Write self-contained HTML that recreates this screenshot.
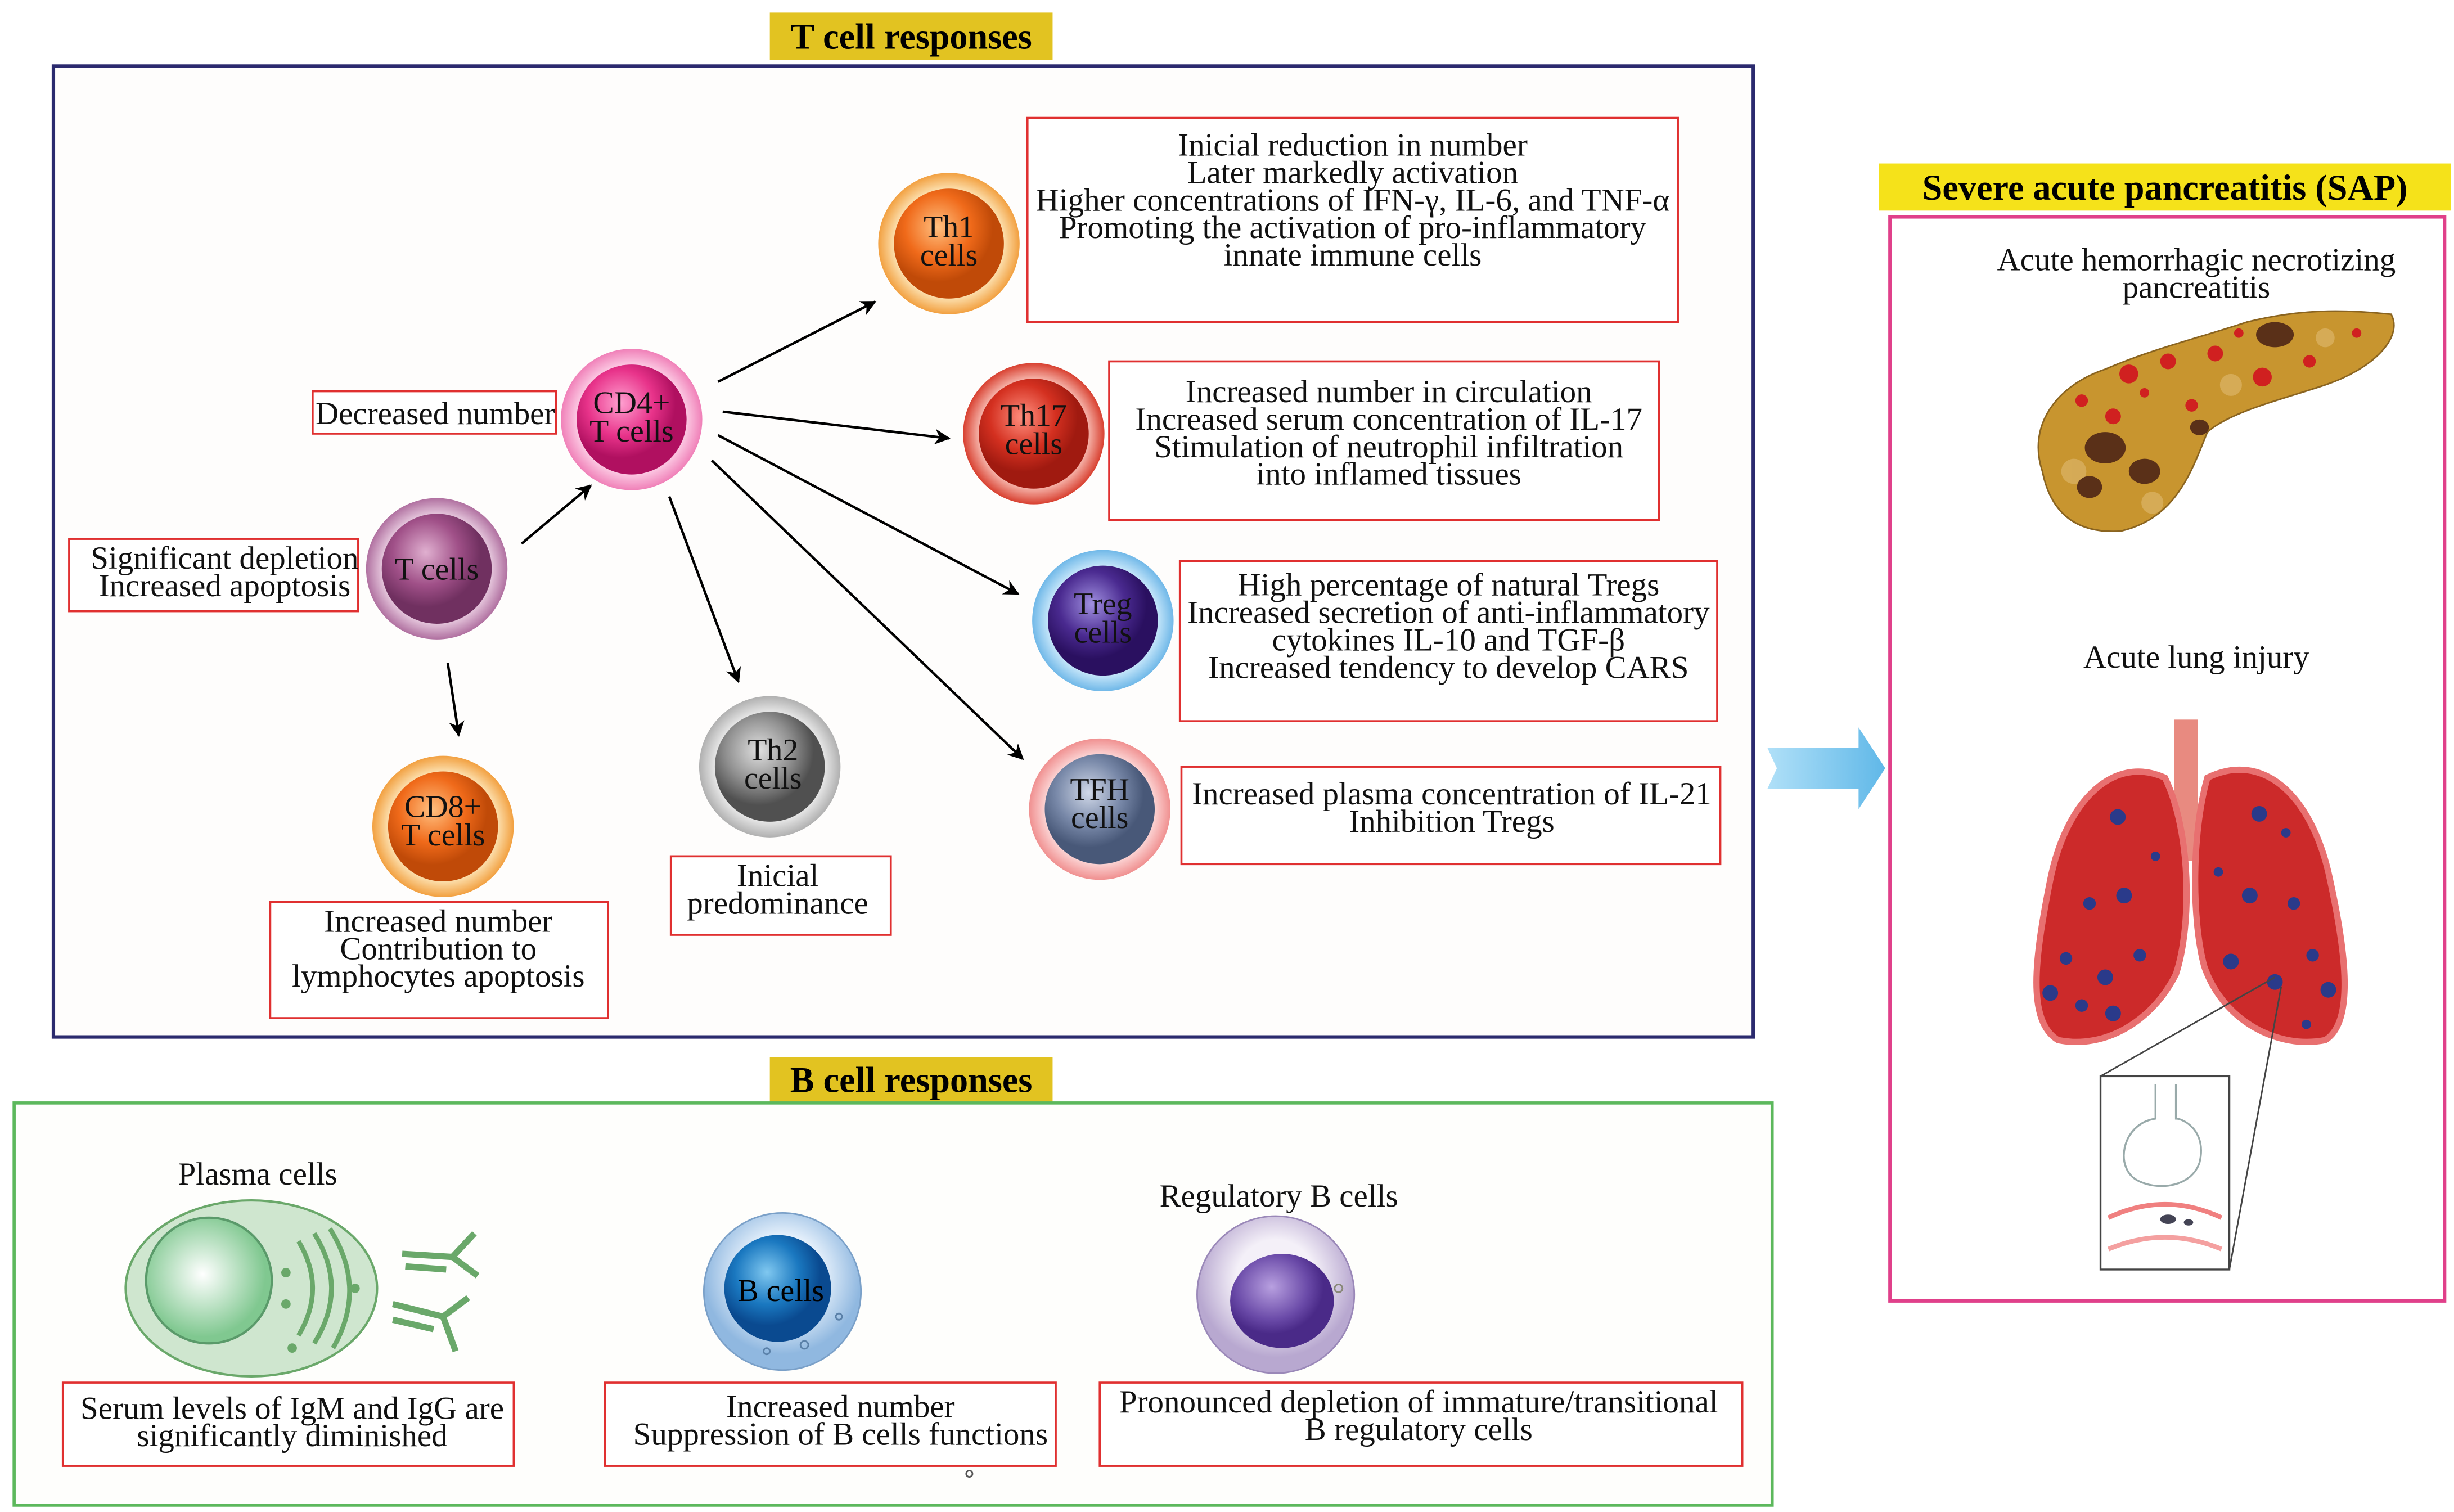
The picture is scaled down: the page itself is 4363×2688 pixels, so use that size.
<!DOCTYPE html>
<html><head><meta charset="utf-8"><style>html,body{margin:0;padding:0;background:#fff}svg{display:block}</style></head>
<body>
<svg width="4363" height="2688" viewBox="0 0 1562 962.3" xmlns="http://www.w3.org/2000/svg" font-family="'Liberation Serif', serif">
<defs>
<marker id="ah" markerWidth="10" markerHeight="10" refX="9" refY="5" orient="auto" markerUnits="userSpaceOnUse"><path d="M0,0 L10,5 L0,10 L3,5 z" fill="#000"/></marker>
<radialGradient id="gO" cx="40%" cy="35%"><stop offset="0" stop-color="#ffc080"/><stop offset="0.6" stop-color="#f06a1a"/><stop offset="1" stop-color="#c04a08"/></radialGradient>
<radialGradient id="rO" cx="50%" cy="50%"><stop offset="0.7" stop-color="#fff3d0"/><stop offset="1" stop-color="#f2a040"/></radialGradient>
<radialGradient id="gP" cx="40%" cy="35%"><stop offset="0" stop-color="#ffa0d0"/><stop offset="0.6" stop-color="#e8338a"/><stop offset="1" stop-color="#b01060"/></radialGradient>
<radialGradient id="rP" cx="50%" cy="50%"><stop offset="0.7" stop-color="#ffe0f0"/><stop offset="1" stop-color="#f080b8"/></radialGradient>
<radialGradient id="gR" cx="40%" cy="35%"><stop offset="0" stop-color="#ff9080"/><stop offset="0.6" stop-color="#d43020"/><stop offset="1" stop-color="#a01a10"/></radialGradient>
<radialGradient id="rR" cx="50%" cy="50%"><stop offset="0.7" stop-color="#ffd8d0"/><stop offset="1" stop-color="#d84030"/></radialGradient>
<radialGradient id="gV" cx="40%" cy="35%"><stop offset="0" stop-color="#e0b0d0"/><stop offset="0.6" stop-color="#a05088"/><stop offset="1" stop-color="#703060"/></radialGradient>
<radialGradient id="rV" cx="50%" cy="50%"><stop offset="0.7" stop-color="#f5e0ee"/><stop offset="1" stop-color="#b070a0"/></radialGradient>
<radialGradient id="gT" cx="40%" cy="35%"><stop offset="0" stop-color="#a090e0"/><stop offset="0.6" stop-color="#4a2a90"/><stop offset="1" stop-color="#2a1060"/></radialGradient>
<radialGradient id="rT" cx="50%" cy="50%"><stop offset="0.7" stop-color="#e0f4ff"/><stop offset="1" stop-color="#70b8e8"/></radialGradient>
<radialGradient id="gG" cx="40%" cy="35%"><stop offset="0" stop-color="#e0e0e0"/><stop offset="0.6" stop-color="#909090"/><stop offset="1" stop-color="#505050"/></radialGradient>
<radialGradient id="rG" cx="50%" cy="50%"><stop offset="0.7" stop-color="#f8f8f8"/><stop offset="1" stop-color="#b0b0b0"/></radialGradient>
<radialGradient id="gS" cx="40%" cy="35%"><stop offset="0" stop-color="#d0d8e8"/><stop offset="0.6" stop-color="#7888a8"/><stop offset="1" stop-color="#485878"/></radialGradient>
<radialGradient id="rS" cx="50%" cy="50%"><stop offset="0.7" stop-color="#ffe8e8"/><stop offset="1" stop-color="#f09090"/></radialGradient>
<radialGradient id="gB" cx="40%" cy="35%"><stop offset="0" stop-color="#80c8f0"/><stop offset="0.6" stop-color="#1a78c0"/><stop offset="1" stop-color="#0a4a90"/></radialGradient>
<radialGradient id="rB" cx="50%" cy="40%"><stop offset="0.5" stop-color="#e8f2fc"/><stop offset="1" stop-color="#90b8e0"/></radialGradient>
<radialGradient id="gRB" cx="40%" cy="35%"><stop offset="0" stop-color="#b8a0e0"/><stop offset="0.7" stop-color="#6a4aa8"/><stop offset="1" stop-color="#4a2a88"/></radialGradient>
<radialGradient id="rRB" cx="50%" cy="40%"><stop offset="0.5" stop-color="#f4f0f8"/><stop offset="1" stop-color="#b8a8d0"/></radialGradient>
<radialGradient id="gPl" cx="45%" cy="45%"><stop offset="0" stop-color="#ffffff"/><stop offset="1" stop-color="#80c890"/></radialGradient>
<linearGradient id="arr" x1="0" x2="1"><stop offset="0" stop-color="#b0e0f8"/><stop offset="1" stop-color="#60b8e8"/></linearGradient>
</defs>
<rect width="1562" height="962.3" fill="#fff"/>

<rect x="490" y="8" width="180" height="30" fill="#e2c321"/>
<text x="580" y="31" font-size="23" font-weight="bold" text-anchor="middle">T cell responses</text>
<rect x="490" y="673" width="180" height="29" fill="#e2c321"/>
<text x="580" y="695" font-size="23" font-weight="bold" text-anchor="middle">B cell responses</text>
<rect x="1196" y="104" width="364" height="30" fill="#f5e21a"/>
<text x="1378" y="127" font-size="23" font-weight="bold" text-anchor="middle">Severe acute pancreatitis (SAP)</text>

<rect x="34" y="42" width="1082" height="618" fill="#fefdfc" stroke="#2b2a6e" stroke-width="2.2"/>
<rect x="9" y="702" width="1119" height="256" fill="#fefefc" stroke="#5cb85c" stroke-width="2"/>
<rect x="1203" y="138" width="353" height="690" fill="#fff" stroke="#e0408a" stroke-width="2.2"/>

<path d="M1125,476 L1183,476 L1183,463 L1200,489 L1183,515 L1183,502 L1125,502 L1131,489 z" fill="url(#arr)"/>

<g stroke="#000" stroke-width="1.6" marker-end="url(#ah)">
<line x1="332" y1="346" x2="376" y2="309"/>
<line x1="457" y1="243" x2="557" y2="192"/>
<line x1="460" y1="262" x2="604" y2="279"/>
<line x1="457" y1="277" x2="648" y2="378"/>
<line x1="453" y1="293" x2="651" y2="483"/>
<line x1="426" y1="316" x2="470" y2="434"/>
<line x1="285" y1="422" x2="292" y2="468"/>
</g>

<g font-size="20" text-anchor="middle" fill="#111">
<circle cx="604" cy="155" r="45" fill="url(#rO)"/><circle cx="604" cy="155" r="35" fill="url(#gO)"/>
<text x="604" y="151">Th1</text><text x="604" y="169">cells</text>
<circle cx="402" cy="267" r="45" fill="url(#rP)"/><circle cx="402" cy="267" r="35" fill="url(#gP)"/>
<text x="402" y="263">CD4+</text><text x="402" y="281">T cells</text>
<circle cx="658" cy="276" r="45" fill="url(#rR)"/><circle cx="658" cy="276" r="35" fill="url(#gR)"/>
<text x="658" y="271">Th17</text><text x="658" y="289">cells</text>
<circle cx="278" cy="362" r="45" fill="url(#rV)"/><circle cx="278" cy="362" r="35" fill="url(#gV)"/>
<text x="278" y="369">T cells</text>
<circle cx="702" cy="395" r="45" fill="url(#rT)"/><circle cx="702" cy="395" r="35" fill="url(#gT)"/>
<text x="702" y="391">Treg</text><text x="702" y="409">cells</text>
<circle cx="282" cy="526" r="45" fill="url(#rO)"/><circle cx="282" cy="526" r="35" fill="url(#gO)"/>
<text x="282" y="520">CD8+</text><text x="282" y="538">T cells</text>
<circle cx="490" cy="488" r="45" fill="url(#rG)"/><circle cx="490" cy="488" r="35" fill="url(#gG)"/>
<text x="492" y="484">Th2</text><text x="492" y="502">cells</text>
<circle cx="700" cy="515" r="45" fill="url(#rS)"/><circle cx="700" cy="515" r="35" fill="url(#gS)"/>
<text x="700" y="509">TFH</text><text x="700" y="527">cells</text>
</g>

<g fill="#fff" stroke="#e03030" stroke-width="1.3">
<rect x="654" y="75" width="414" height="130"/>
<rect x="706" y="230" width="350" height="101"/>
<rect x="751" y="357" width="342" height="102"/>
<rect x="752" y="488" width="343" height="62"/>
<rect x="199" y="249" width="155" height="27"/>
<rect x="44" y="343" width="184" height="46"/>
<rect x="172" y="574" width="215" height="74"/>
<rect x="427" y="545" width="140" height="50"/>
<rect x="40" y="880" width="287" height="53"/>
<rect x="385" y="880" width="287" height="53"/>
<rect x="700" y="880" width="409" height="53"/>
</g>
<g font-size="20.4" text-anchor="middle" fill="#111">
<text x="861" y="99">Inicial reduction in number</text>
<text x="861" y="116.5">Later markedly activation</text>
<text x="861" y="134">Higher concentrations of IFN-γ, IL-6, and TNF-α</text>
<text x="861" y="151.5">Promoting the activation of pro-inflammatory</text>
<text x="861" y="169">innate immune cells</text>
<text x="884" y="256">Increased number in circulation</text>
<text x="884" y="273.5">Increased serum  concentration of IL-17</text>
<text x="884" y="291">Stimulation of neutrophil infiltration</text>
<text x="884" y="308.5">into inflamed tissues</text>
<text x="922" y="379">High percentage of natural Tregs</text>
<text x="922" y="396.5">Increased secretion of anti-inflammatory</text>
<text x="922" y="414">cytokines IL-10 and TGF-β</text>
<text x="922" y="431.5">Increased tendency to develop CARS</text>
<text x="924" y="512">Increased plasma concentration of IL-21</text>
<text x="924" y="529.5">Inhibition Tregs</text>
<text x="277" y="270">Decreased number</text>
<text x="143" y="362">Significant depletion</text>
<text x="143" y="379.5">Increased apoptosis</text>
<text x="279" y="593">Increased number</text>
<text x="279" y="610.5">Contribution to</text>
<text x="279" y="628">lymphocytes apoptosis</text>
<text x="495" y="564">Inicial</text>
<text x="495" y="581.5">predominance</text>
<text x="186" y="903">Serum levels of IgM and IgG are</text>
<text x="186" y="920.5">significantly diminished</text>
<text x="535" y="902">Increased number</text>
<text x="535" y="919.5">Suppression of B cells functions</text>
<text x="903" y="899">Pronounced depletion of immature/transitional</text>
<text x="903" y="916.5">B regulatory cells</text>
<text x="164" y="754">Plasma cells</text>
<text x="814" y="768">Regulatory B cells</text>
<text x="1398" y="172">Acute hemorrhagic necrotizing</text>
<text x="1398" y="189.5">pancreatitis</text>
<text x="1398" y="425">Acute lung injury</text>
</g>

<ellipse cx="160" cy="820" rx="80" ry="56" fill="#cfe6cf" stroke="#6aa86a" stroke-width="1.5"/>
<circle cx="133" cy="815" r="40" fill="url(#gPl)" stroke="#5a9a6a" stroke-width="1.5"/>
<g fill="none" stroke="#6aa86a" stroke-width="3">
<path d="M190,790 q18,30 0,60"/><path d="M200,785 q22,35 0,70"/><path d="M210,782 q24,38 2,76"/>
</g>
<g fill="#6aa86a"><circle cx="182" cy="810" r="3"/><circle cx="182" cy="830" r="3"/><circle cx="226" cy="820" r="3"/><circle cx="186" cy="858" r="3"/></g>
<g stroke="#6aa86a" stroke-width="4" fill="none">
<path d="M256,798 L288,800 M288,800 L302,785 M288,800 L304,812"/>
<path d="M258,806 L284,808"/>
<path d="M250,830 L282,838 M282,838 L298,826 M282,838 L290,860"/>
<path d="M250,840 L276,846"/>
</g>

<circle cx="498" cy="822" r="50" fill="url(#rB)" stroke="#7aa0c8"/>
<circle cx="495" cy="820" r="34" fill="url(#gB)"/>
<text x="497" y="828" font-size="20" text-anchor="middle">B cells</text>
<g fill="none" stroke="#5a80a8"><circle cx="512" cy="856" r="2.5"/><circle cx="488" cy="860" r="2"/><circle cx="534" cy="838" r="2"/></g>

<circle cx="812" cy="824" r="50" fill="url(#rRB)" stroke="#9a88b8"/>
<ellipse cx="816" cy="828" rx="33" ry="30" fill="url(#gRB)"/>
<circle cx="852" cy="820" r="2.5" fill="none" stroke="#887"/>
<circle cx="617" cy="938" r="2" fill="none" stroke="#555"/>

<path d="M1300,300 C1290,270 1310,245 1340,235 C1370,222 1400,215 1430,205 C1470,195 1500,198 1522,200 C1530,215 1510,235 1480,245 C1450,255 1420,262 1405,275 C1395,300 1385,330 1350,338 C1320,340 1305,325 1300,300 z" fill="#c8952f" stroke="#8a6420"/>
<g fill="#d9b060" opacity="0.8"><circle cx="1320" cy="300" r="8"/><circle cx="1370" cy="320" r="7"/><circle cx="1480" cy="215" r="6"/><circle cx="1420" cy="245" r="7"/></g>
<g fill="#d02020"><circle cx="1355" cy="238" r="6"/><circle cx="1380" cy="230" r="5"/><circle cx="1410" cy="225" r="5"/><circle cx="1345" cy="265" r="5"/><circle cx="1440" cy="240" r="6"/><circle cx="1395" cy="258" r="4"/><circle cx="1470" cy="230" r="4"/><circle cx="1325" cy="255" r="4"/><circle cx="1365" cy="250" r="3"/><circle cx="1500" cy="212" r="3"/><circle cx="1425" cy="212" r="3"/></g>
<g fill="#5a3018"><ellipse cx="1340" cy="285" rx="13" ry="10"/><ellipse cx="1365" cy="300" rx="10" ry="8"/><ellipse cx="1448" cy="213" rx="12" ry="8"/><ellipse cx="1330" cy="310" rx="8" ry="7"/><ellipse cx="1400" cy="272" rx="6" ry="5"/></g>

<rect x="1384" y="458" width="15" height="90" fill="#e88a80"/>
<path d="M1378,495 C1345,480 1315,510 1305,560 C1295,610 1290,650 1310,662 C1340,668 1370,650 1385,620 C1395,590 1395,530 1378,495 z" fill="#cc2a2a" stroke="#e87070" stroke-width="4"/>
<path d="M1405,495 C1440,478 1470,505 1482,555 C1492,600 1500,650 1480,662 C1450,668 1415,650 1403,615 C1395,585 1395,530 1405,495 z" fill="#cc2a2a" stroke="#e87070" stroke-width="4"/>
<g fill="#2a3a8a">
<circle cx="1348" cy="520" r="5"/><circle cx="1330" cy="575" r="4"/><circle cx="1352" cy="570" r="5"/><circle cx="1315" cy="610" r="4"/><circle cx="1340" cy="622" r="5"/><circle cx="1305" cy="632" r="5"/><circle cx="1325" cy="640" r="4"/><circle cx="1362" cy="608" r="4"/><circle cx="1345" cy="645" r="5"/><circle cx="1372" cy="545" r="3"/>
<circle cx="1438" cy="518" r="5"/><circle cx="1455" cy="530" r="3"/><circle cx="1432" cy="570" r="5"/><circle cx="1460" cy="575" r="4"/><circle cx="1420" cy="612" r="5"/><circle cx="1448" cy="625" r="5"/><circle cx="1472" cy="608" r="4"/><circle cx="1482" cy="630" r="5"/><circle cx="1468" cy="652" r="3"/><circle cx="1412" cy="555" r="3"/>
</g>
<rect x="1337" y="685" width="82" height="123" fill="#fff" stroke="#444" stroke-width="1.2"/>
<line x1="1337" y1="685" x2="1448" y2="622" stroke="#444"/>
<line x1="1419" y1="808" x2="1452" y2="628" stroke="#444"/>
<path d="M1372,690 L1372,712 C1350,715 1345,745 1362,752 C1375,758 1395,755 1400,740 C1405,720 1390,712 1385,712 L1385,690" fill="none" stroke="#9aa" stroke-width="1.2"/>
<path d="M1342,775 Q1378,758 1414,775" fill="none" stroke="#f08080" stroke-width="3"/>
<path d="M1342,795 Q1378,780 1414,795" fill="none" stroke="#f4a0a0" stroke-width="3"/>
<g fill="#445"><ellipse cx="1380" cy="776" rx="5" ry="3"/><ellipse cx="1393" cy="778" rx="3" ry="2"/></g>
</svg>
</body></html>
